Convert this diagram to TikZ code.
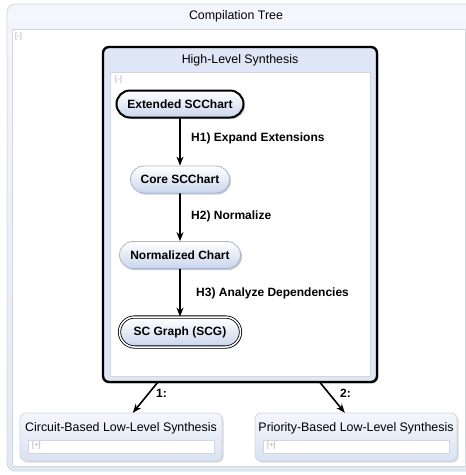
\documentclass[tikz,border=0pt]{standalone}
\usepackage{fontspec}
\setmainfont{Liberation Sans}
\usetikzlibrary{shapes.misc,shadows,arrows.meta,calc}
\definecolor{boxblue}{HTML}{C9D6EE}
\definecolor{lightbg}{HTML}{F4F6FC}
\definecolor{frame}{HTML}{D4D6DC}
\definecolor{nodeline}{HTML}{A9B6CC}
\begin{document}
\begin{tikzpicture}[x=1pt,y=-1pt,
  pill/.style={rounded rectangle, inner sep=0pt, minimum height=27pt,
    top color=white, bottom color=boxblue, draw=nodeline, line width=0.8pt,
    font=\fontsize{12}{14}\selectfont\bfseries,
    drop shadow={shadow xshift=1.5pt, shadow yshift=-1.5pt, fill=black!35, opacity=0.6}},
  lbl/.style={font=\fontsize{12}{14}\selectfont\bfseries, anchor=west, inner sep=0pt},
  ttl/.style={font=\fontsize{12.4}{14}\selectfont, inner sep=0pt},
  tog/.style={font=\fontsize{7.5}{8}\selectfont, text=black!35, inner sep=0pt, anchor=north west},
  arr/.style={-{Stealth[length=9pt,width=7pt]}, line width=1.6pt, black},
  area/.style={fill=white, draw=frame, line width=0.6pt},
  lowbox/.style={rounded corners=6pt, draw=frame, line width=0.8pt,
    top color=lightbg, bottom color=boxblue!70,
    drop shadow={shadow xshift=1.5pt, shadow yshift=-1.5pt, fill=black!30, opacity=0.5}}]
\useasboundingbox (0,0) rectangle (466,475);
\begin{scope}
\clip (0,0) rectangle (466,475);
% outer compilation tree
\draw[rounded corners=8pt, draw=frame, line width=0.8pt, top color=lightbg, bottom color=boxblue!55] (7,4) rectangle (475,471);
\draw[area] (12,29) rectangle (465,466);
\end{scope}
\node[ttl] (ct) at (236,16) {Compilation Tree};
\node[tog] (t0) at (15,33) {[-]};
% high-level synthesis box
\draw[rounded corners=6pt, line width=2.4pt, fill=boxblue!60,
  drop shadow={shadow xshift=1.5pt, shadow yshift=-1.5pt, fill=black!35, opacity=0.6}]
  (103,47) rectangle (377,382);
\node[inner sep=0pt, minimum width=274pt, minimum height=335pt] (hls) at (240,214.5) {};
\draw[area] (110,72) rectangle (370,376);
\node[ttl] (hlst) at (240,60) {High-Level Synthesis};
\node[tog] (t1) at (115,76) {[-]};
% chain
\node[pill, minimum width=127pt, draw=black, line width=2pt] (ext) at (180,104) {Extended SCChart};
\node[pill, minimum width=99pt] (core) at (180,179.5) {Core SCChart};
\node[pill, minimum width=121pt] (norm) at (180,255) {Normalized Chart};
\node[pill, minimum width=121pt, minimum height=30pt, draw=black, double=white, double distance=1.5pt, line width=0.8pt] (scg) at (180,332) {SC Graph (SCG)};
\draw[arr] (ext) -- (core);
\draw[arr] (core) -- (norm);
\draw[arr] (norm) -- (scg);
\node[lbl] (h1) at (191,138) {H1) Expand Extensions};
\node[lbl] (h2) at (191,216) {H2) Normalize};
\node[lbl] (h3) at (196,293) {H3) Analyze Dependencies};
% low-level boxes
\draw[lowbox] (20,413) rectangle (222,461);
\node[inner sep=0pt, minimum width=202pt, minimum height=48pt] (cb) at (121,437) {};
\node[ttl] (cbt) at (121,428) {Circuit-Based Low-Level Synthesis};
\draw[area] (28,440) rectangle (214,453);
\node[tog] (t2) at (32,441.5) {[+]};
\draw[lowbox] (255,413) rectangle (457,461);
\node[inner sep=0pt, minimum width=202pt, minimum height=48pt] (pb) at (356,437) {};
\node[ttl] (pbt) at (356,428) {Priority-Based Low-Level Synthesis};
\draw[area] (263,440) rectangle (449,453);
\node[tog] (t3) at (267,441.5) {[+]};
% connectors
\draw[arr] ([xshift=55pt]hls.south west) -- ([xshift=113pt]cb.north west);
\draw[arr] ([xshift=217pt]hls.south west) -- ([xshift=90pt]pb.north west);
\node[lbl] (l1) at (156,393) {1:};
\node[lbl] (l2) at (340,393) {2:};
\end{tikzpicture}
\end{document}
